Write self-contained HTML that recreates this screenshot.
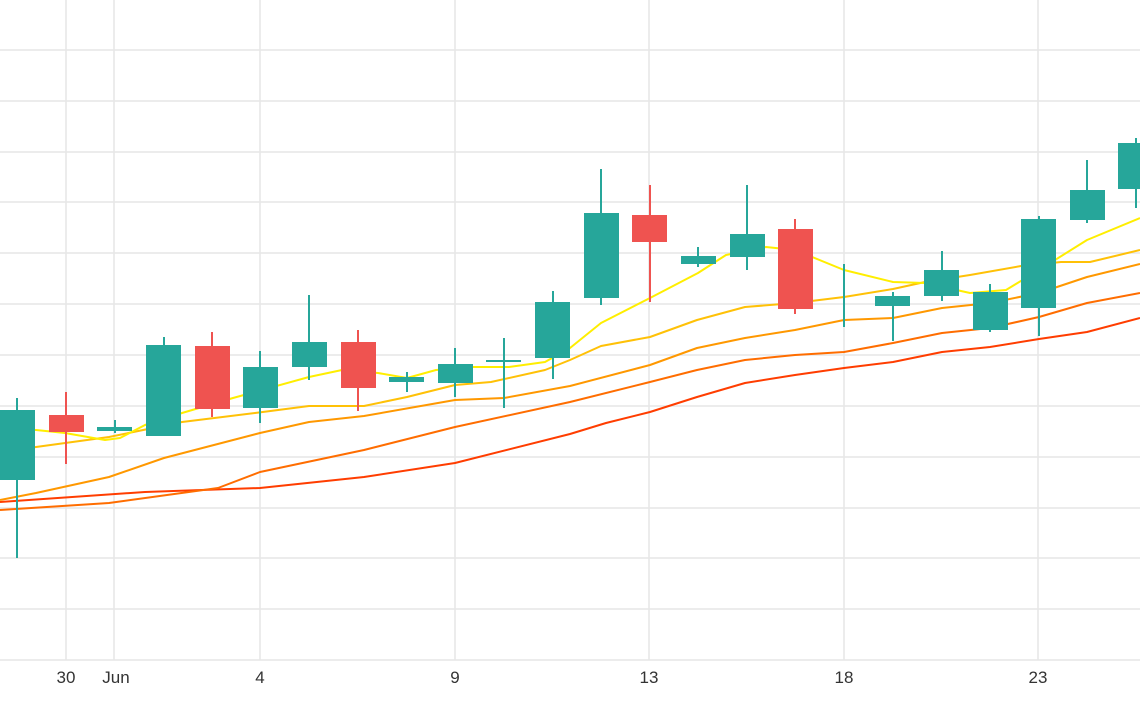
<!DOCTYPE html>
<html><head><meta charset="utf-8"><style>
html,body{margin:0;padding:0;background:#fff;width:1140px;height:710px;overflow:hidden}
svg{display:block}
text{font-family:"Liberation Sans",sans-serif;font-size:17px;fill:#333}
</style></head><body>
<svg width="1140" height="710" viewBox="0 0 1140 710">
<g stroke="#e6e6e6" stroke-width="1.5">
<line x1="0" y1="50" x2="1140" y2="50"/><line x1="0" y1="101" x2="1140" y2="101"/>
<line x1="0" y1="152" x2="1140" y2="152"/><line x1="0" y1="202" x2="1140" y2="202"/>
<line x1="0" y1="253" x2="1140" y2="253"/><line x1="0" y1="304" x2="1140" y2="304"/>
<line x1="0" y1="355" x2="1140" y2="355"/><line x1="0" y1="406" x2="1140" y2="406"/>
<line x1="0" y1="457" x2="1140" y2="457"/><line x1="0" y1="508" x2="1140" y2="508"/>
<line x1="0" y1="558" x2="1140" y2="558"/><line x1="0" y1="609" x2="1140" y2="609"/>
<line x1="0" y1="660" x2="1140" y2="660"/>
<line x1="66" y1="0" x2="66" y2="660"/><line x1="114" y1="0" x2="114" y2="660"/>
<line x1="260" y1="0" x2="260" y2="660"/><line x1="455" y1="0" x2="455" y2="660"/>
<line x1="649" y1="0" x2="649" y2="660"/><line x1="844" y1="0" x2="844" y2="660"/>
<line x1="1038" y1="0" x2="1038" y2="660"/>
</g>
<g fill="none" stroke-width="2" stroke-linejoin="round">
<polyline stroke="#ff3d00" points="0,502 145,492 260,488 364,477 455,463 570,434 606,423 650,412 697,397 745,383 795,375 844,368 893,362 942,352 990,347 1039,339 1087,332 1140,318"/>
<polyline stroke="#ff6d00" points="0,510 109,503 218,488 260,472 364,450 455,427 570,402 650,382 697,370 745,360 795,355 844,352 893,343 942,333 990,328 1039,317 1087,303 1140,293"/>
<polyline stroke="#ff9800" points="0,500 36,493 109,477 164,458 260,433 309,422 364,416 455,400 504,398 570,386 650,365 697,348 745,338 795,330 844,320 893,318 942,308 990,303 1039,293 1087,277 1140,264"/>
<polyline stroke="#ffc107" points="0,452 36,447 109,437 182,422 255,413 309,406 364,406 407,397 455,385 491,382 545,370 570,360 601,346 650,337 697,320 745,307 795,303 844,297 893,289 925,282 970,275 1021,266 1061,262 1090,262 1140,250"/>
<polyline stroke="#ffee00" points="0,428 36,430 65,433 105,440 120,438 145,425 182,413 233,398 309,377 342,370 378,373 407,378 436,370 473,367 509,367 545,362 570,348 601,323 650,298 698,273 726,255 766,247 795,250 844,270 893,282 925,283 970,293 1006,290 1039,270 1087,240 1140,218"/>
</g>
<g stroke-width="2">
<!-- wicks -->
<g stroke="#26a69a">
<line x1="17" y1="398" x2="17" y2="558"/><line x1="115" y1="420" x2="115" y2="433"/>
<line x1="164" y1="337" x2="164" y2="436"/><line x1="260" y1="351" x2="260" y2="423"/>
<line x1="309" y1="295" x2="309" y2="380"/><line x1="407" y1="372" x2="407" y2="392"/>
<line x1="455" y1="348" x2="455" y2="397"/><line x1="504" y1="338" x2="504" y2="408"/>
<line x1="553" y1="291" x2="553" y2="379"/><line x1="601" y1="169" x2="601" y2="305"/>
<line x1="698" y1="247" x2="698" y2="267"/><line x1="747" y1="185" x2="747" y2="270"/>
<line x1="844" y1="264" x2="844" y2="327"/><line x1="893" y1="292" x2="893" y2="341"/>
<line x1="942" y1="251" x2="942" y2="301"/><line x1="990" y1="284" x2="990" y2="332"/>
<line x1="1039" y1="216" x2="1039" y2="336"/><line x1="1087" y1="160" x2="1087" y2="223"/>
<line x1="1136" y1="138" x2="1136" y2="208"/>
</g>
<g stroke="#ef5350">
<line x1="66" y1="392" x2="66" y2="464"/><line x1="212" y1="332" x2="212" y2="417"/>
<line x1="358" y1="330" x2="358" y2="411"/><line x1="650" y1="185" x2="650" y2="302"/>
<line x1="795" y1="219" x2="795" y2="314"/>
</g>
</g>
<g fill="#26a69a">
<rect x="0" y="410" width="35" height="70"/>
<rect x="97" y="427" width="35" height="4"/>
<rect x="146" y="345" width="35" height="91"/>
<rect x="243" y="367" width="35" height="41"/>
<rect x="292" y="342" width="35" height="25"/>
<rect x="389" y="377" width="35" height="5"/>
<rect x="438" y="364" width="35" height="19"/>
<rect x="486" y="360" width="35" height="2"/>
<rect x="535" y="302" width="35" height="56"/>
<rect x="584" y="213" width="35" height="85"/>
<rect x="681" y="256" width="35" height="8"/>
<rect x="730" y="234" width="35" height="23"/>
<rect x="875" y="296" width="35" height="10"/>
<rect x="924" y="270" width="35" height="26"/>
<rect x="973" y="292" width="35" height="38"/>
<rect x="1021" y="219" width="35" height="89"/>
<rect x="1070" y="190" width="35" height="30"/>
<rect x="1118" y="143" width="35" height="46"/>
</g>
<g fill="#ef5350">
<rect x="49" y="415" width="35" height="17"/>
<rect x="195" y="346" width="35" height="63"/>
<rect x="341" y="342" width="35" height="46"/>
<rect x="632" y="215" width="35" height="27"/>
<rect x="778" y="229" width="35" height="80"/>
</g>
<g text-anchor="middle">
<text x="66" y="683">30</text><text x="116" y="683">Jun</text>
<text x="260" y="683">4</text><text x="455" y="683">9</text>
<text x="649" y="683">13</text><text x="844" y="683">18</text>
<text x="1038" y="683">23</text>
</g>
</svg>
</body></html>
